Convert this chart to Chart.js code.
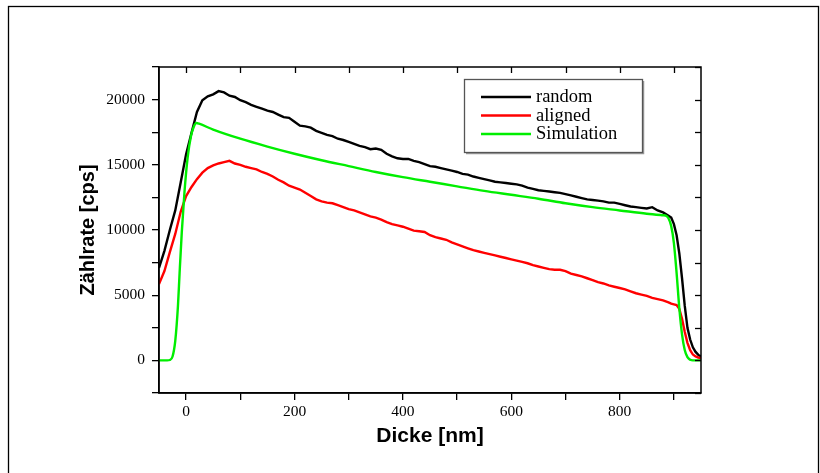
<!DOCTYPE html>
<html><head><meta charset="utf-8">
<script src="https://cdn.jsdelivr.net/npm/chart.js@4/dist/chart.umd.min.js"></script>
<style>html,body{margin:0;padding:0;background:#fff;overflow:hidden}</style>
</head><body>
<canvas id="c" width="820" height="473"></canvas>
<script>
// ---- data ----
const seriesLabels = ['random', 'aligned', 'Simulation'];
const seriesColors = ['#000000', '#ff0000', '#00ee00'];

const thickness = [-50,-40,-30,-20,-10,0,10,20,30,40,50,60,70,80,90,100,110,120,130,140,150,160,170,180,190,200,
  210,220,230,240,250,260,270,280,290,300,310,320,330,340,350,360,370,380,390,400,410,420,430,440,450,460,470,480,490,500,
  510,520,530,540,550,560,570,580,590,600,610,620,630,640,650,660,670,680,690,700,710,720,730,740,750,760,770,780,790,800,
  810,820,830,840,850,860,870,880,890,895,900,905,910,915,920,925,930,935,940,945,950];

const randomCounts = [7100,8400,10000,11500,13650,15800,17450,19050,19950,20250,20400,20650,20550,20300,20200,19950,19800,19600,19450,19300,19150,19050,18850,18650,18600,18300,
  18000,17950,17850,17600,17450,17300,17200,17000,16900,16750,16600,16450,16350,16200,16250,16150,15850,15650,15500,15450,15450,15300,15200,15050,14900,14850,14750,14650,14550,14450,
  14300,14250,14100,14000,13900,13800,13700,13650,13600,13550,13500,13400,13250,13150,13050,13000,12950,12900,12850,12750,12650,12550,12450,12350,12300,12250,12200,12100,12100,12000,
  11900,11800,11750,11700,11650,11750,11500,11350,11100,10950,10450,9600,8200,6300,4200,2500,1600,1000,650,420,300];

const alignedCounts = [5850,6850,8300,9700,11400,12600,13300,13900,14400,14750,14950,15100,15200,15300,15100,15000,14850,14750,14650,14450,14300,14100,13850,13650,13400,13250,
  13100,12850,12600,12350,12200,12100,12050,11900,11750,11600,11500,11350,11200,11050,10950,10800,10600,10450,10350,10250,10100,9950,9900,9850,9600,9450,9350,9250,9050,8900,
  8750,8600,8450,8350,8250,8150,8050,7950,7850,7750,7650,7550,7450,7300,7200,7100,7000,6950,6950,6850,6650,6550,6450,6300,6150,6000,5900,5750,5650,5550,
  5450,5300,5150,5050,4950,4800,4700,4600,4450,4350,4300,4250,3950,3200,2200,1350,780,450,300,220,170];

const thicknessSim = [-50,-35,-30,-25,-20,-15,-12,-8,-3,3,9,14,19,24,50,100,150,200,250,300,350,400,450,500,550,600,650,700,750,800,850,880,885,890,895,900,905,910,915,920,925,930,935,950];
const simulationCounts = [0,0,30,300,1500,4200,6700,9800,12900,15600,17200,17900,18200,18150,17700,17000,16400,15850,15350,14900,14450,14050,13700,13350,13000,12700,12400,12050,11750,11500,11250,11130,11100,10900,10300,9000,6700,4000,2000,800,250,50,0,0];

const xTickValues = [0, 100, 200, 300, 400, 500, 600, 700, 800, 900];
const xTickLabels = [0, 200, 400, 600, 800];
const yTickValues = [-2500, 0, 2500, 5000, 7500, 10000, 12500, 15000, 17500, 20000, 22500];
const yTickLabels = [0, 5000, 10000, 15000, 20000];

// ---- build ----
const toPts = (xs, ys) => xs.map((x, i) => ({x: x, y: ys[i]}));

const decor = {
  id: 'decor',
  beforeDraw(chart) {
    const ctx = chart.ctx;
    ctx.save();
    ctx.fillStyle = '#fff';
    ctx.fillRect(0, 0, chart.width, chart.height);
    ctx.strokeStyle = '#000';
    ctx.lineWidth = 1.3;
    ctx.strokeRect(8.5, 6.5, 810, 520);
    ctx.restore();
  },
  afterDatasetsDraw(chart) {
    const {ctx, chartArea: a, scales: {x, y}} = chart;
    ctx.save();
    ctx.strokeStyle = '#000';
    ctx.lineWidth = 1.5;
    ctx.strokeRect(a.left, a.top, a.right - a.left, a.bottom - a.top);
    ctx.lineWidth = 1.3;
    x.ticks.forEach(t => {
      const px = Math.round(x.getPixelForValue(t.value)) + 0.5;
      ctx.beginPath(); ctx.moveTo(px, a.top); ctx.lineTo(px, a.top + 6); ctx.stroke();
    });
    y.ticks.forEach(t => {
      const py = Math.round(y.getPixelForValue(t.value)) + 0.5;
      ctx.beginPath(); ctx.moveTo(a.right, py); ctx.lineTo(a.right - 6, py); ctx.stroke();
    });
    // legend box
    const bx = 464, by = 79, bw = 178, bh = 73;
    ctx.fillStyle = '#fff';
    ctx.fillRect(bx, by, bw, bh);
    ctx.strokeStyle = '#999';
    ctx.lineWidth = 1.5;
    ctx.beginPath(); ctx.moveTo(bx + 2, by + bh + 1.5); ctx.lineTo(bx + bw + 1.5, by + bh + 1.5); ctx.lineTo(bx + bw + 1.5, by + 2); ctx.stroke();
    ctx.strokeStyle = '#555';
    ctx.lineWidth = 1.3;
    ctx.strokeRect(bx + 0.5, by + 0.5, bw, bh);
    const rows = [97, 115.5, 134];
    ctx.font = '18.5px "Liberation Serif", "Times New Roman", serif';
    ctx.textBaseline = 'alphabetic';
    ctx.textAlign = 'left';
    chart.data.datasets.forEach((ds, i) => {
      ctx.strokeStyle = ds.borderColor;
      ctx.lineWidth = 2.5;
      ctx.beginPath(); ctx.moveTo(481, rows[i]); ctx.lineTo(531, rows[i]); ctx.stroke();
      ctx.fillStyle = '#000';
      ctx.fillText(ds.label, 536, rows[i] + 5);
    });
    ctx.restore();
  }
};

new Chart(document.getElementById('c'), {
  type: 'line',
  data: {
    datasets: [
      {label: seriesLabels[0], data: toPts(thickness, randomCounts), borderColor: seriesColors[0], borderWidth: 2.4, pointRadius: 0, tension: 0, order: 2},
      {label: seriesLabels[1], data: toPts(thickness, alignedCounts), borderColor: seriesColors[1], borderWidth: 2.4, pointRadius: 0, tension: 0, order: 1},
      {label: seriesLabels[2], data: toPts(thicknessSim, simulationCounts), borderColor: seriesColors[2], borderWidth: 2.4, pointRadius: 0, cubicInterpolationMode: 'monotone', order: 0}
    ]
  },
  options: {
    responsive: false,
    animation: false,
    devicePixelRatio: 1,
    layout: {padding: {left: 0, top: 67, right: 119, bottom: 0}},
    plugins: {legend: {display: false}, tooltip: {enabled: false}},
    scales: {
      x: {
        type: 'linear', min: -50, max: 950,
        afterFit: s => { s.height = 80; },
        afterBuildTicks: s => { s.ticks = xTickValues.map(v => ({value: v})); },
        grid: {drawOnChartArea: false, drawTicks: true, tickLength: 7, color: '#000', lineWidth: 1.3},
        border: {display: true, color: '#000', width: 1.5},
        ticks: {
          autoSkip: false, maxRotation: 0, padding: 3, color: '#000',
          font: {family: '"Liberation Serif", "Times New Roman", serif', size: 15.5},
          callback: v => xTickLabels.includes(v) ? String(v) : ''
        },
        title: {display: true, text: 'Dicke [nm]', color: '#000',
          font: {family: '"Liberation Sans", Arial, sans-serif', size: 21, weight: 'bold'},
          padding: {top: 0, bottom: 24}}
      },
      y: {
        type: 'linear', min: -2500, max: 22500,
        afterFit: s => { s.width = 159; },
        afterBuildTicks: s => { s.ticks = yTickValues.map(v => ({value: v})); },
        grid: {drawOnChartArea: false, drawTicks: true, tickLength: 7, color: '#000', lineWidth: 1.3},
        border: {display: true, color: '#000', width: 1.5},
        ticks: {
          autoSkip: false, padding: 7, color: '#000',
          font: {family: '"Liberation Serif", "Times New Roman", serif', size: 15.5},
          callback: v => yTickLabels.includes(v) ? String(v) : ''
        },
        title: {display: true, text: 'Zählrate [cps]', color: '#000',
          font: {family: '"Liberation Sans", Arial, sans-serif', size: 20, weight: 'bold'},
          padding: {top: 76, bottom: 0}}
      }
    }
  },
  plugins: [decor]
});
</script>
</body></html>
